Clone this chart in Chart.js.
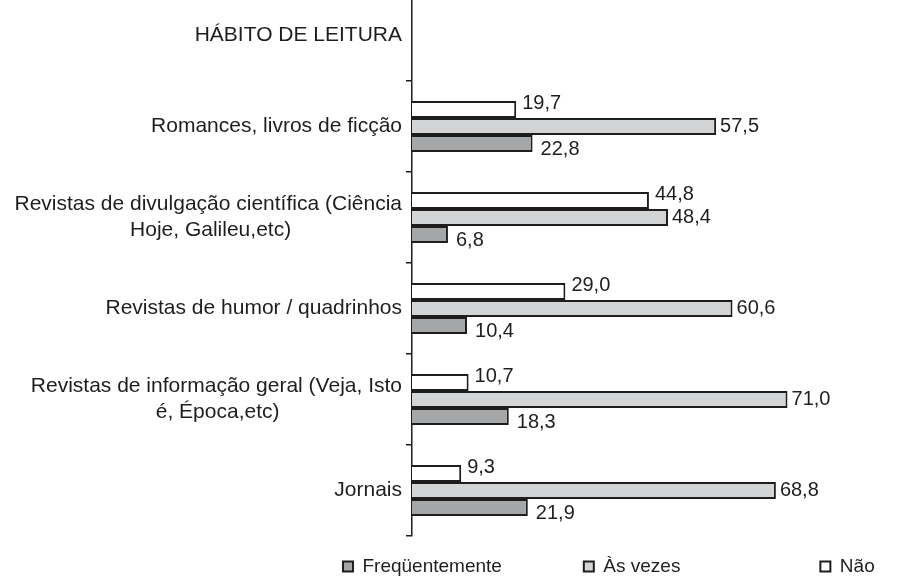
<!DOCTYPE html>
<html lang="pt">
<head>
<meta charset="utf-8">
<script src="https://cdn.jsdelivr.net/npm/chart.js@4.4.1/dist/chart.umd.min.js"></script>
<style>
  html, body { margin: 0; padding: 0; background: #fff; overflow: hidden; }
  #wrap { width: 901px; height: 580px; overflow: hidden; position: relative; }
  /* the source figure is cropped at the top: the first band is partly cut off */
  #chart { position: absolute; left: 0; top: -27px; }
</style>
</head>
<body>
<div id="wrap"><canvas id="chart" width="901" height="607"></canvas></div>
<script>
// Hábito de leitura - percentual de respostas por tipo de publicação
const categories = [
  'HÁBITO DE LEITURA',
  'Romances, livros de ficção',
  ['Revistas de divulgação científica (Ciência', 'Hoje, Galileu,etc)'],
  'Revistas de humor / quadrinhos',
  ['Revistas de informação geral (Veja, Isto', 'é, Época,etc)'],
  'Jornais'
];
const seriesNames = ['Não', 'Às vezes', 'Freqüentemente'];
const naoValues = [null, 19.7, 44.8, 29.0, 10.7, 9.3];
const asVezesValues = [null, 57.5, 48.4, 60.6, 71.0, 68.8];
const freqValues = [null, 22.8, 6.8, 10.4, 18.3, 21.9];

const FONT = "'Liberation Sans', Arial, sans-serif";
const INK = '#1e1e1e';
const fills = ['#ffffff', '#d3d4d6', '#a5a6a8'];
const labelShift = [{ dx: 6, dy: -6 }, { dx: 4, dy: 0 }, { dx: 8, dy: 6 }];
const legendTextWidth = [43, 214, 214]; // room for each legend entry (Não, Às vezes, Freqüentemente)

Chart.defaults.font.family = FONT;
Chart.defaults.color = INK;

// measure helper, used to nudge wrapped labels and legend entries
const measureCtx = document.createElement('canvas').getContext('2d');
function textWidth(text, font) {
  measureCtx.font = font;
  return measureCtx.measureText(text).width;
}
function padTo(text, font, width) {
  let out = text;
  while (textWidth(out + '\u00a0', font) <= width) out += '\u00a0';
  return out;
}

// second line of a wrapped label sits roughly centred under the first
const tickFont = '21px ' + FONT;
const yLabels = categories.map(lbl => {
  if (!Array.isArray(lbl)) return lbl;
  const w0 = textWidth(lbl[0], tickFont);
  return lbl.map((line, i) => i === 0 ? line : padTo(line, tickFont, (w0 + textWidth(line, tickFont)) / 2));
});

const valueLabels = {
  id: 'valueLabels',
  afterDatasetsDraw(chart) {
    const ctx = chart.ctx;
    ctx.save();
    ctx.font = '20px ' + FONT;
    ctx.fillStyle = INK;
    ctx.textBaseline = 'middle';
    ctx.textAlign = 'left';
    chart.data.datasets.forEach((ds, i) => {
      chart.getDatasetMeta(i).data.forEach((bar, j) => {
        const v = ds.data[j];
        if (v == null) return;
        ctx.fillText(v.toFixed(1).replace('.', ','), bar.x + labelShift[i].dx, bar.y + labelShift[i].dy);
      });
    });
    ctx.restore();
  }
};

const legendFont = '19px ' + FONT;

new Chart(document.getElementById('chart'), {
  type: 'bar',
  data: {
    labels: yLabels,
    datasets: [naoValues, asVezesValues, freqValues].map((vals, i) => ({
      label: seriesNames[i],
      data: vals,
      backgroundColor: fills[i],
      borderColor: INK,
      borderWidth: 2,
      categoryPercentage: 0.56,
      barPercentage: 1
    }))
  },
  options: {
    indexAxis: 'y',
    responsive: false,
    animation: false,
    layout: { padding: { top: 0, right: 13, bottom: -6, left: 0 } },
    scales: {
      x: {
        min: 0,
        max: 90,
        ticks: { display: false },
        grid: { display: false },
        border: { display: false },
        afterFit(scale) { scale.height = 13; }
      },
      y: {
        grid: { drawOnChartArea: false, tickLength: 6, color: INK, lineWidth: 1.5 },
        border: { color: INK, width: 1.5 },
        ticks: { color: INK, font: { size: 21, lineHeight: 1.25 }, padding: 4, autoSkip: false },
        afterFit(scale) { scale.width = 412; }
      }
    },
    plugins: {
      tooltip: { enabled: false },
      legend: {
        position: 'bottom',
        align: 'end',
        reverse: true,
        labels: {
          boxWidth: 10,
          boxHeight: 10,
          padding: 8,
          color: INK,
          font: { size: 19 },
          generateLabels(chart) {
            const items = Chart.defaults.plugins.legend.labels.generateLabels(chart);
            items.forEach(it => {
              it.text = padTo(it.text, legendFont, legendTextWidth[it.datasetIndex]);
              it.lineWidth = 2;
              it.strokeStyle = INK;
            });
            return items;
          }
        }
      }
    }
  },
  plugins: [valueLabels]
});
</script>
</body>
</html>
